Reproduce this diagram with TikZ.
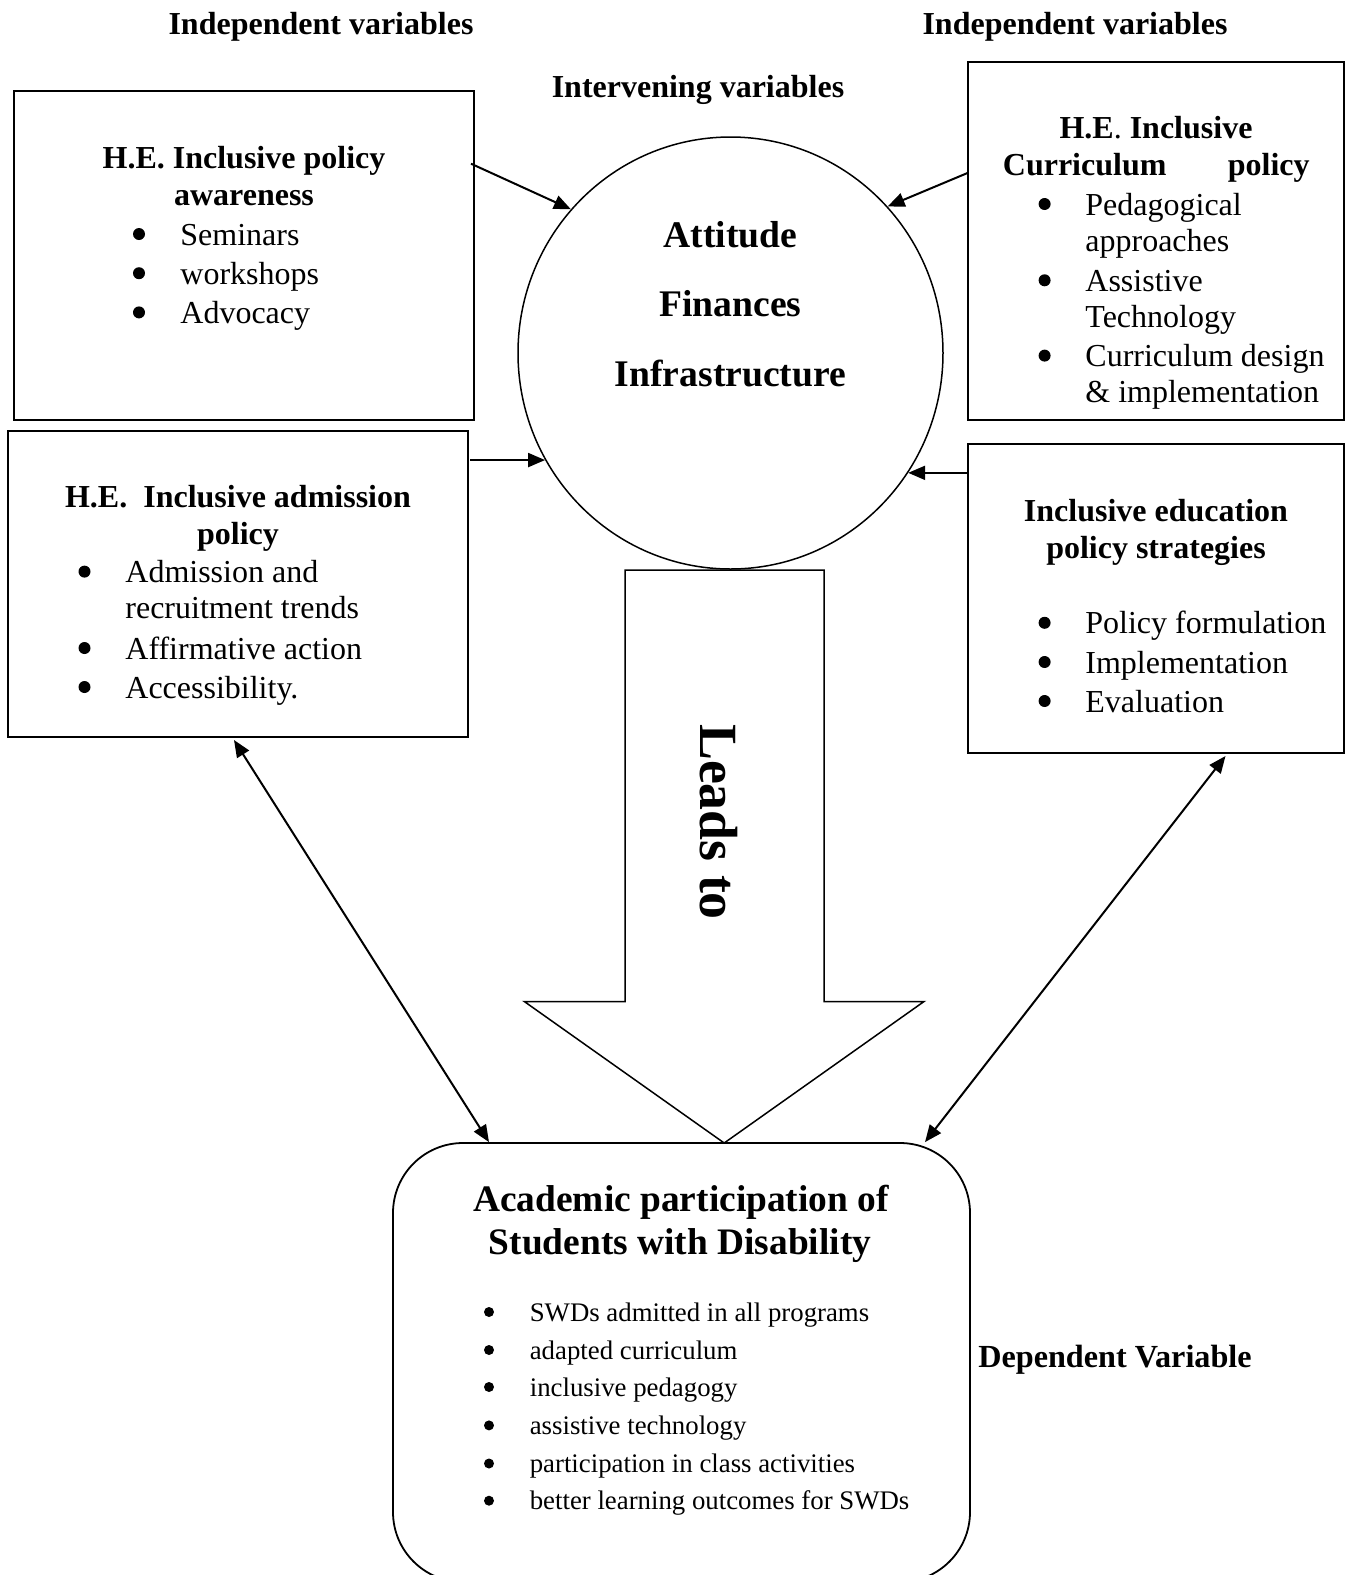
\documentclass[tikz,border=0pt]{standalone}
\usepackage{fontspec}
\setmainfont{Liberation Serif}
\usetikzlibrary{arrows.meta,fit,shapes.geometric}
\newcommand\myfbody{\fontsize{16}{19}\selectfont}
\newcommand\myfcirc{\fontsize{18.8}{22}\selectfont\bfseries}
\newcommand\myfhead{\fontsize{18.7}{22}\selectfont\bfseries}
\newcommand\myfbig{\fontsize{26.9}{30}\selectfont\bfseries}
\newcommand\myfsmall{\fontsize{13.4}{16}\selectfont}
% name, bullet x, text x, baseline y, text
\newcommand\mybul[5]{%
  \node[bul] (#1b) at (#2,#4-11) {};
  \node[tl] (#1) at (#3,#4) {#5};}
\newcommand\mysbul[5]{%
  \node[sbul] (#1b) at (#2,#4-9) {};
  \node[stl] (#1) at (#3,#4) {#5};}
\begin{document}
\begin{tikzpicture}[x=0.5pt,y=-0.5pt,
  boxst/.style={draw, line width=1pt, inner sep=0pt},
  tl/.style={anchor=base west, inner sep=0pt, font=\myfbody},
  tr/.style={anchor=base east, inner sep=0pt, font=\myfbody\bfseries},
  hd/.style={anchor=base, inner sep=0pt, font=\myfbody\bfseries},
  hdl/.style={anchor=base west, inner sep=0pt, font=\myfbody\bfseries},
  bul/.style={circle, fill, inner sep=0pt, minimum size=6pt},
  sbul/.style={circle, fill, inner sep=0pt, minimum size=5pt},
  stl/.style={anchor=base west, inner sep=0pt, font=\myfsmall},
  ctx/.style={anchor=base, inner sep=0pt, font=\myfcirc},
  dh/.style={anchor=base, inner sep=0pt, font=\myfhead},
  conn/.style={line width=1pt, -{Triangle[length=8.5pt,width=7pt]}},
  dconn/.style={line width=1pt, {Triangle[length=8.5pt,width=7pt]}-{Triangle[length=8.5pt,width=7pt]}}
]
\useasboundingbox (0,0) rectangle (1352,1575);

% titles
\node[hd] (tiL) at (321,34) {Independent variables};
\node[hd] (tiR) at (1075,34) {Independent variables};
\node[hd] (tiM) at (698,97.5) {Intervening variables};
\node[anchor=base, inner sep=0pt, font=\fontsize{16.1}{19}\selectfont\bfseries] (tiD) at (1115,1367) {Dependent Variable};

% boxes
\node[boxst, fit={(14,91) (474,420)}] (boxA) {};
\node[boxst, fit={(8,431) (468,737)}] (boxB) {};
\node[boxst, fit={(968,62) (1344,420)}] (boxC) {};
\node[boxst, fit={(968,444) (1344,753)}] (boxD) {};
\node[draw, line width=0.75pt, ellipse, minimum width=212.5pt, minimum height=216pt, inner sep=0pt] (circ) at (730.5,353) {};
\node[draw, line width=0.9pt, rounded corners=35pt, inner sep=0pt, fit={(393,1143) (970,1582)}] (dep) {};

% box A text
\node[hd] (a1) at (244,168) {H.E. Inclusive policy};
\node[hd] (a2) at (244,205) {awareness};
\mybul{a3}{139}{180}{245}{Seminars}
\mybul{a4}{139}{180}{284.2}{workshops}
\mybul{a5}{139}{180}{323.4}{Advocacy}

% box B text
\node[hd] (b1) at (238,507) {H.E.\ \ Inclusive admission};
\node[hd] (b2) at (238,544) {policy};
\mybul{b3}{84.5}{125}{582.6}{Admission and}
\node[tl] (b4) at (125,618.8) {recruitment trends};
\mybul{b5}{84.5}{125}{659}{Affirmative action}
\mybul{b6}{84.5}{125}{698}{Accessibility.}

% box C text
\node[hd] (c1) at (1156,138.6) {H.E{\mdseries.} Inclusive};
\node[hdl] (c2) at (1002.5,175.8) {Curriculum};
\node[tr] (c3) at (1310,175.8) {policy};
\mybul{c4}{1044.6}{1085}{215}{Pedagogical}
\node[tl] (c5) at (1085,251) {approaches};
\mybul{c6}{1044.6}{1085}{291.3}{Assistive}
\node[tl] (c7) at (1085,327.5) {Technology};
\mybul{c8}{1044.6}{1085}{366.6}{Curriculum design}
\node[tl] (c9) at (1085,402.8) {\& implementation};

% box D text
\node[hd] (d1) at (1156,521) {Inclusive education};
\node[hd] (d2) at (1156,558.5) {policy strategies};
\mybul{d3}{1044.6}{1085}{633.8}{Policy formulation}
\mybul{d4}{1044.6}{1085}{673}{Implementation}
\mybul{d5}{1044.6}{1085}{712}{Evaluation}

% circle text
\node[ctx] (k1) at (730.5,247) {Attitude};
\node[ctx] (k2) at (730.5,316.4) {Finances};
\node[ctx] (k3) at (730.5,386.7) {Infrastructure};

% big arrow
\draw[line width=0.75pt, fill=white] (625,570) -- (824,570) -- (824,1001.5) -- (924,1001.5) -- (724.2,1143) -- (524.3,1001.5) -- (625,1001.5) -- cycle;
\node[anchor=base, inner sep=0pt, font=\myfbig, rotate=-90] (lead) at (700,822) {Leads to};

% dependent box text
\node[dh] (e1) at (681,1211.4) {Academic participation of};
\node[dh] (e2) at (680,1254.6) {Students with Disability};
\mysbul{e3}{489}{529.4}{1321}{SWDs admitted in all programs}
\mysbul{e4}{489}{529.4}{1359}{adapted curriculum}
\mysbul{e5}{489}{529.4}{1396}{inclusive pedagogy}
\mysbul{e6}{489}{529.4}{1434.4}{assistive technology}
\mysbul{e7}{489}{529.4}{1472.5}{participation in class activities}
\mysbul{e8}{489}{529.4}{1509.7}{better learning outcomes for SWDs}

% connectors
\coordinate (sA) at (471,163.7);
\coordinate (sB) at (470,460);
\coordinate (sC) at (968,172.8);
\coordinate (xL) at (234,0);
\coordinate (xLd) at (489,0);
\coordinate (xR) at (1225.5,0);
\coordinate (xRd) at (925,0);
\draw[conn] (sA) -- (circ.138.2);
\draw[conn] (sB |- circ.210.8) -- (circ.210.8);
\draw[conn] (sC) -- (circ.43.8);
\draw[conn] (boxD.west |- circ.-34.8) -- (circ.-34.8);
\draw[dconn] ([yshift=-1pt]boxB.south -| xL) -- (dep.north -| xLd);
\draw[dconn] ([yshift=-1pt]boxD.south -| xR) -- (dep.north -| xRd);
\end{tikzpicture}
\end{document}
